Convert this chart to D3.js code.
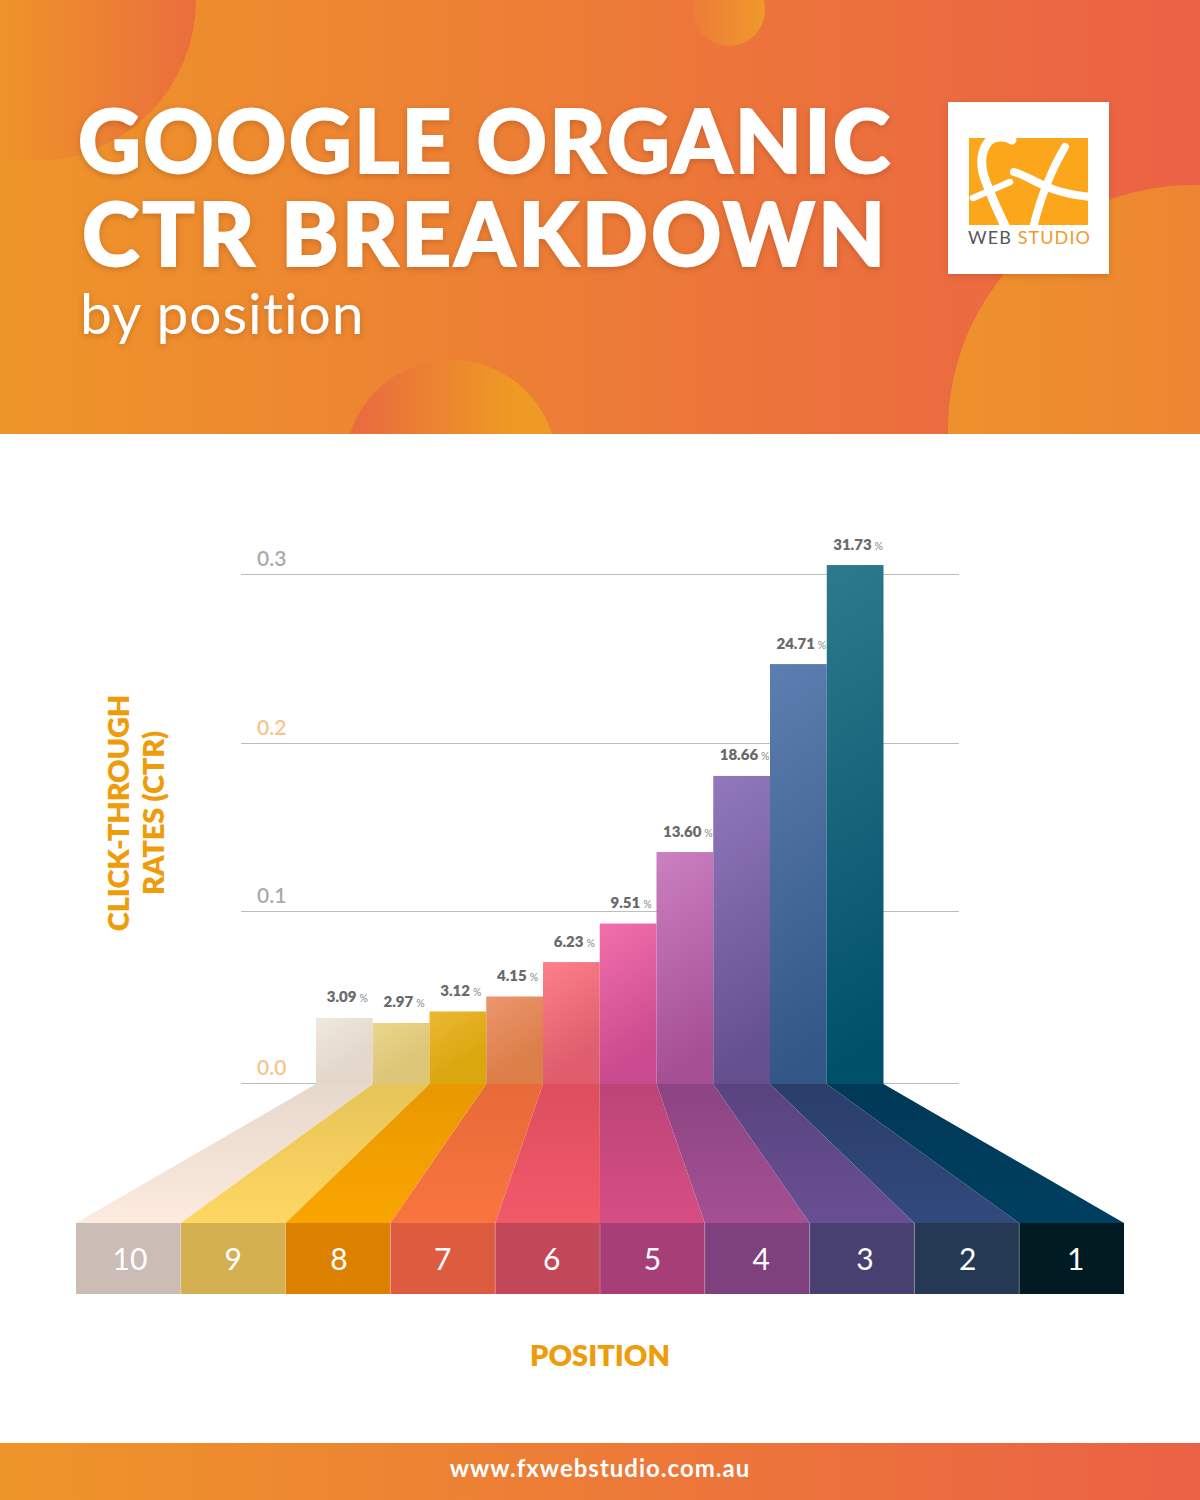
<!DOCTYPE html>
<html>
<head>
<meta charset="utf-8">
<script src="https://cdn.jsdelivr.net/npm/d3@7"></script>
<style>
  body { margin: 0; background: #fff; }
  svg { display: block; }
  text { font-family: Lato, sans-serif; font-variant-ligatures: none; }
</style>
</head>
<body>
<svg id="chart" width="1200" height="1500"></svg>
<script>
// values, left to right
const positions = ["10", "9", "8", "7", "6", "5", "4", "3", "2", "1"];
const ctrLabels = ["3.09", "2.97", "3.12", "4.15", "6.23", "9.51", "13.60", "18.66", "24.71", "31.73"];
// the drawn bars don't follow their labels exactly, so heights are read against the axis
const barHeights = [0.0378, 0.0349, 0.0416, 0.0503, 0.0703, 0.0927, 0.1351, 0.1804, 0.2467, 0.3053];
const yTicks = [0, 0.1, 0.2, 0.3];

const barLight = ["#f0e8df", "#ead68a", "#ecb835", "#ec9670", "#fe808c", "#f26fab", "#cb80c0", "#9178bd", "#5c7eb0", "#2e7a8c"];
const barDark = ["#e3d8cb", "#dec678", "#dba70f", "#dc7f48", "#df5d6c", "#c94a8e", "#a64f95", "#65508f", "#335887", "#00506a"];
const floorTop = ["#e6d8cb", "#e6c458", "#e89800", "#e76a38", "#dd4e5e", "#bc4477", "#8c4483", "#59437e", "#2b3e6a", "#003956"];
const floorBottom = ["#fcebde", "#ffd662", "#faa500", "#f9753f", "#f25969", "#d64e83", "#a55093", "#684f94", "#31497d", "#003f60"];
const cellColors = ["#cbbcb5", "#d4b050", "#dc8000", "#dd5c3f", "#c24758", "#a83e78", "#7e417d", "#484070", "#253955", "#001c22"];

const svg = d3.select("#chart");
const defs = svg.append("defs");

function gradient(id, c1, c2, x1, y1, x2, y2, user) {
    const g = defs.append("linearGradient").attr("id", id)
        .attr("x1", x1).attr("y1", y1).attr("x2", x2).attr("y2", y2);
    if (user) g.attr("gradientUnits", "userSpaceOnUse");
    g.append("stop").attr("offset", 0).attr("stop-color", c1);
    g.append("stop").attr("offset", 1).attr("stop-color", c2);
}
gradient("bandGrad", "#ee9529", "#eb6145", 0, 0, 1, 0);
gradient("blobCorner", "#ee9329", "#ea6e3d", 0.4, 0, 1, 0);
gradient("blobSmall", "#ed7e38", "#ef9a2a", 0.1, 0, 1, 0);
gradient("blobLow", "#ea6e3d", "#ef9a24", 0.1, 0, 0.8, 0);
gradient("blobBig", "#ee912c", "#ec7a38", 0, 0, 1, 0);

// ----- header -----
const header = svg.append("g");
defs.append("clipPath").attr("id", "headerClip")
    .append("rect").attr("width", 1200).attr("height", 434);
const blobs = header.append("g").attr("clip-path", "url(#headerClip)");
blobs.append("rect").attr("width", 1200).attr("height", 434).attr("fill", "url(#bandGrad)");
blobs.append("circle").attr("cx", 35).attr("cy", 0).attr("r", 161).attr("fill", "url(#blobCorner)");
blobs.append("circle").attr("cx", 729).attr("cy", 10).attr("r", 36).attr("fill", "url(#blobSmall)");
blobs.append("circle").attr("cx", 451).attr("cy", 466).attr("r", 106).attr("fill", "url(#blobLow)");
blobs.append("circle").attr("cx", 1193).attr("cy", 430).attr("r", 245).attr("fill", "url(#blobBig)");

const shadow = "filter: drop-shadow(0px 2px 3px rgba(120,50,10,0.3))";
// a thin white stroke brings the weight up to the original's heavier cut
header.append("text").attr("x", 78).attr("y", 172.5).text("GOOGLE ORGANIC")
    .attr("font-size", 87).attr("font-weight", 900).attr("letter-spacing", 2.2)
    .attr("stroke", "#fff").attr("stroke-width", 1.8).attr("fill", "#fff").attr("style", shadow);
header.append("text").attr("x", 82).attr("y", 266).text("CTR BREAKDOWN")
    .attr("font-size", 87).attr("font-weight", 900).attr("letter-spacing", 3)
    .attr("stroke", "#fff").attr("stroke-width", 1.8).attr("fill", "#fff").attr("style", shadow);
header.append("text").attr("x", 80).attr("y", 334).text("by position")
    .attr("font-size", 57).attr("font-weight", 400).attr("letter-spacing", 0.9).attr("fill", "#fff").attr("style", shadow);

// logo
const logo = header.append("g");
logo.append("rect").attr("x", 948).attr("y", 102).attr("width", 161).attr("height", 172)
    .attr("fill", "#fff").attr("style", "filter: drop-shadow(0px 2px 3px rgba(120,50,10,0.25))");
logo.append("rect").attr("x", 969).attr("y", 138).attr("width", 119).attr("height", 87).attr("fill", "#fca61c");
defs.append("clipPath").attr("id", "logoClip")
    .append("rect").attr("x", 969).attr("y", 138).attr("width", 119).attr("height", 87);
const strokes = logo.append("g").attr("clip-path", "url(#logoClip)")
    .attr("fill", "none").attr("stroke", "#fff").attr("stroke-linecap", "round");
strokes.append("path").attr("d", "M1012,140C1005,136 995,136 989,141C981,150 979,165 986,182C992,198 998,212 1006,228").attr("stroke-width", 9);
strokes.append("path").attr("d", "M973,198L1010,182").attr("stroke-width", 6.5);
strokes.append("path").attr("d", "M1065,147C1050,172 1040,200 1033,228").attr("stroke-width", 8);
strokes.append("path").attr("d", "M1014,172C1035,178 1045,193 1092,197").attr("stroke-width", 8);
const logoText = logo.append("text").attr("x", 968).attr("y", 244).attr("font-size", 18)
    .attr("letter-spacing", 1.1).attr("font-weight", 400);
logoText.append("tspan").attr("fill", "#55585c").text("WEB ");
logoText.append("tspan").attr("fill", "#ee9a2c").text("STUDIO");

// ----- scales -----
const barX = d3.scaleBand().domain(positions).range([316, 883.5]);
const baseX = d3.scaleBand().domain(positions).range([76, 1124]);
const y = d3.scaleLinear().domain(yTicks).range([1083, 911, 743, 574]);
const floorY = [1084, 1223], cellBottom = 1294;

// bar shading runs downward and tilted to the right
positions.forEach((p, i) => {
    const top = y(barHeights[i]), h = floorY[0] - top;
    gradient("bar" + i, barLight[i], barDark[i], barX(p), top, barX(p) + 0.45 * h, top + 0.7 * h, true);
    gradient("floor" + i, floorTop[i], floorBottom[i], 0, 0, 0, 1);
});

// ----- grid and y axis -----
const yAxis = svg.append("g").attr("transform", "translate(241,0)")
    .call(d3.axisRight(y).tickValues(yTicks).tickSize(718).tickFormat(d3.format(".1f")));
yAxis.select(".domain").remove();
yAxis.selectAll(".tick line").attr("stroke", "#bdbdbd").attr("stroke-width", 1);
yAxis.selectAll(".tick text")
    .attr("x", 16).attr("y", -9).attr("dy", 0)
    .attr("text-anchor", "start")
    .attr("font-family", "Lato").attr("font-size", 21).attr("font-weight", 600)
    .attr("fill", (d, i) => i % 2 == 0 ? "#f6c48c" : "#aaaaaa");

// ----- bars -----
svg.append("g").selectAll("rect")
    .data(positions)
    .join("rect")
    .attr("x", d => barX(d))
    .attr("width", barX.bandwidth())
    .attr("y", (d, i) => y(barHeights[i]))
    .attr("height", (d, i) => floorY[0] - y(barHeights[i]))
    .attr("fill", (d, i) => `url(#bar${i})`);

// value labels sit a little right of the bar centre
const labels = svg.append("g").selectAll("text")
    .data(positions)
    .join("text")
    .attr("x", d => barX(d) + barX.bandwidth() / 2 + 3)
    .attr("y", (d, i) => y(barHeights[i]) - 15.5)
    .attr("text-anchor", "middle");
labels.append("tspan").attr("font-size", 15).attr("font-weight", 800).attr("fill", "#6a6a6a")
    .text((d, i) => ctrLabels[i]);
labels.append("tspan").attr("font-size", 10.5).attr("fill", "#888").attr("dx", 3).text("%");

// ----- floor and position cells -----
svg.append("g").selectAll("path")
    .data(positions)
    .join("path")
    .attr("d", d => {
        const top = [barX(d), barX(d) + barX.bandwidth()];
        const bot = [baseX(d), baseX(d) + baseX.bandwidth()];
        return d3.line()([[top[0], floorY[0]], [top[1], floorY[0]], [bot[1], floorY[1]], [bot[0], floorY[1]]]) + "Z";
    })
    .attr("fill", (d, i) => `url(#floor${i})`);

svg.append("g").selectAll("rect")
    .data(positions)
    .join("rect")
    .attr("x", d => baseX(d))
    .attr("y", floorY[1])
    .attr("width", baseX.bandwidth())
    .attr("height", cellBottom - floorY[1])
    .attr("fill", (d, i) => cellColors[i]);

// thin lighter seams between the cells
svg.append("g").selectAll("line")
    .data(positions.slice(1))
    .join("line")
    .attr("x1", d => baseX(d)).attr("x2", d => baseX(d))
    .attr("y1", floorY[1]).attr("y2", cellBottom)
    .attr("stroke", "#fff").attr("stroke-opacity", 0.25);

// the digits aren't quite centred in their cells in the original
const cellNudge = [1.5, 0, 1, 0, 4, 0, 4, 3, 1, 4];
svg.append("g").selectAll("text")
    .data(positions)
    .join("text")
    .attr("x", (d, i) => baseX(d) + baseX.bandwidth() / 2 + cellNudge[i])
    .attr("y", 1270)
    .attr("text-anchor", "middle")
    .attr("font-size", 30)
    .attr("font-weight", 400)
    .attr("fill", "#fff")
    .text(d => d);

// ----- axis titles -----
const orange = "#ee9c0a";
svg.append("text").attr("transform", "translate(128.5,813) rotate(-90)")
    .attr("text-anchor", "middle").attr("font-size", 29).attr("font-weight", 800)
    .attr("fill", orange).attr("letter-spacing", -0.2).text("CLICK-THROUGH");
svg.append("text").attr("transform", "translate(163.5,813) rotate(-90)")
    .attr("text-anchor", "middle").attr("font-size", 29).attr("font-weight", 800)
    .attr("fill", orange).attr("letter-spacing", -0.2).text("RATES (CTR)");
svg.append("text").attr("x", 600).attr("y", 1366)
    .attr("text-anchor", "middle").attr("font-size", 29).attr("font-weight", 800)
    .attr("fill", orange).text("POSITION");

// ----- footer -----
svg.append("rect").attr("y", 1443).attr("width", 1200).attr("height", 57).attr("fill", "url(#bandGrad)");
svg.append("text").attr("x", 600).attr("y", 1477)
    .attr("text-anchor", "middle").attr("font-size", 24).attr("font-weight", 700)
    .attr("letter-spacing", 1).attr("fill", "#fff").text("www.fxwebstudio.com.au");
</script>
</body>
</html>
